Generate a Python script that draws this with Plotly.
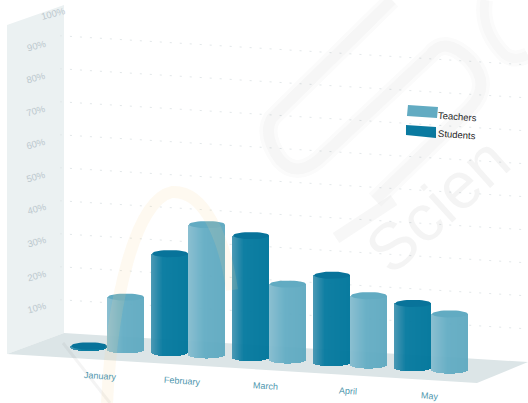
import math
import plotly.graph_objects as go

months = ["January", "February", "March", "April", "May"]
students = [0.5, 30, 37, 26.5, 19.5]
teachers = [16, 39.5, 23, 21, 17]
y_ticks = [10, 20, 30, 40, 50, 60, 70, 80, 90, 100]

W, H = 528, 403
PX_PER_PCT = 3.3
ZERO_Y = 333
WALL_X = 64
SLOPE = 0.0623
GROUP0 = 107.5
GROUP_STEP = 81.0
CYL_W = 36
BAR_OFF = 18.4
ELL = 3.6
BAR_FRONT = 13.0
FONT = "Liberation Sans"

def xd(px):
    return (px - GROUP0) / GROUP_STEP

def floor_pct(px):
    return -SLOPE * (px - WALL_X) / PX_PER_PCT

def P(x, y):
    return x / W, 1 - y / H

def mix(c1, c2, f):
    return "#%02x%02x%02x" % tuple(round(a + (b - a) * f) for a, b in zip(c1, c2))

def stud_col(t):
    if t < -0.35:
        return mix((70, 150, 178), (6, 122, 160), (t + 1) / 0.65)
    return mix((6, 122, 160), (0, 118, 156), (t + 0.35) / 1.35)

def teach_col(t):
    if t < -0.1:
        return mix((135, 190, 208), (100, 173, 196), (t + 1) / 0.9)
    return mix((100, 173, 196), (96, 170, 193), (t + 0.1) / 1.1)

fig = go.Figure()

shapes = []
def poly(pts, fill, layer="below"):
    d = "M" + " L".join("%.4f,%.4f" % P(*p) for p in pts) + " Z"
    shapes.append(dict(type="path", path=d, xref="paper", yref="paper", fillcolor=fill,
                       line=dict(width=0), layer=layer))

poly([(7, 25), (64, 5), (64, 333), (7, 354)], "#ebf1f2")
poly([(7, 354), (64, 333), (528, 362), (477, 383)], "#dce5e7")

# grid lines
for v in y_ticks[:-1]:
    shapes.append(dict(type="line", xref="x", yref="y", x0=xd(60), x1=xd(528),
                       y0=v + floor_pct(60), y1=v + floor_pct(528), layer="below",
                       line=dict(color="#e3e8ea", width=1, dash="2px,8px")))

def cylinders(values, side, colfn, name, top_col):
    sx, sy, sb, sc = [], [], [], []
    ex, ey = [], []
    for i, v in enumerate(values):
        cx = GROUP0 + GROUP_STEP * i + side * BAR_OFF
        base = floor_pct(cx) - BAR_FRONT / PX_PER_PCT
        e = ELL / PX_PER_PCT
        n = CYL_W
        for k in range(n):
            px = cx - CYL_W / 2 + k + 0.5
            t = (px - cx) / (CYL_W / 2)
            dip = e * math.sqrt(max(0, 1 - t * t))
            sx.append(xd(px))
            sb.append(base - dip)
            sy.append(v + dip)
            sc.append(colfn(t))
        for a in range(0, 361, 10):
            ex.append(xd(cx + CYL_W / 2 * math.cos(math.radians(a))))
            ey.append(base + v + e * math.sin(math.radians(a)))
        ex.append(None)
        ey.append(None)
    fig.add_trace(go.Bar(x=sx, y=sy, base=sb, width=1.25 / GROUP_STEP, name=name,
                         marker=dict(color=sc, line=dict(width=0)), opacity=0.96,
                         hoverinfo="skip", showlegend=False))
    fig.add_trace(go.Scatter(x=ex, y=ey, mode="lines", fill="toself", fillcolor=top_col,
                             line=dict(width=0, color=top_col), hoverinfo="skip", showlegend=False))

cylinders(students, -1, stud_col, "Students", "#08739a")
cylinders(teachers, 1, teach_col, "Teachers", "#62abc2")

ann = []
def label(px, py, text, angle, size, color):
    ann.append(dict(x=px / W, y=1 - py / H, xref="paper", yref="paper", text=text, showarrow=False,
                    xanchor="center", yanchor="middle", textangle=angle,
                    font=dict(family=FONT, size=size, color=color)))

# y tick labels
label_pos = [(37, 307), (37, 275), (37, 241), (37, 208), (36, 176), (36, 143), (36, 110), (36, 77), (37, 46), (53, 14)]
for v, (lx, ly) in zip(y_ticks, label_pos):
    label(lx, ly, f"{v}%", -15, 9.5, "#bcc8ce")
# month labels
for i, m in enumerate(months):
    label(100 + 82.5 * i, 376 + 5 * i, m, 4, 9, "#4f97ae")
# legend
poly([(408, 105), (438, 107), (437, 118), (407, 116)], "#62abc2")
poly([(406, 125), (436, 127), (436, 138), (406, 135)], "#0a7aa0")
label(457, 116, "Teachers", 4, 9.5, "#262626")
label(457, 135, "Students", 4, 9.5, "#262626")

# faint watermark
def stroke(d_pts, color, width):
    parts = []
    for cmd, pts in d_pts:
        parts.append(cmd + " ".join("%.4f,%.4f" % P(*p) for p in pts))
    shapes.append(dict(type="path", path=" ".join(parts), xref="paper", yref="paper",
                       line=dict(color=color, width=width), layer="above"))

stroke([("M", [(107, 403)]), ("C", [(112, 300), (135, 200), (172, 192)]), ("C", [(205, 190), (225, 240), (232, 290)])],
       "rgba(250,215,150,0.14)", 12)
stroke([("M", [(110, 403)]), ("L", [(63, 343), (180, 225), (322, 316), (230, 403)])], "rgba(60,60,60,0.06)", 3)
ring = [("M", [(392, 0)]), ("L", [(272, 118)]), ("Q", [(262, 135), (280, 160)]), ("Q", [(296, 178), (318, 160)]),
        ("L", [(430, 55)]), ("Q", [(445, 35), (470, 60)]), ("Q", [(492, 85), (470, 108)]), ("L", [(375, 200)])]
stroke(ring, "rgba(60,60,60,0.02)", 18)
stroke(ring, "rgba(60,60,60,0.025)", 11)
ring2 = [("M", [(485, 0)]), ("Q", [(480, 30), (505, 55)]), ("Q", [(515, 62), (528, 55)])]
stroke(ring2, "rgba(60,60,60,0.02)", 16)
stroke(ring2, "rgba(60,60,60,0.02)", 9)
stroke([("M", [(394, 200)]), ("L", [(336, 238)])], "rgba(60,60,60,0.045)", 12)
label(437, 205, "Scien", -42, 66, "rgba(60,60,60,0.055)")

fig.update_layout(
    width=W, height=H, margin=dict(l=0, r=0, t=0, b=0), autosize=False,
    paper_bgcolor="white", plot_bgcolor="rgba(0,0,0,0)", barmode="overlay", bargap=0,
    showlegend=False, shapes=shapes, annotations=ann,
    xaxis=dict(range=[xd(0), xd(W)], visible=False, fixedrange=True),
    yaxis=dict(range=[(ZERO_Y - H) / PX_PER_PCT, ZERO_Y / PX_PER_PCT], visible=False, fixedrange=True),
)
fig.write_html("out.html", config={"displayModeBar": False},
               post_script="document.body.style.margin='0';document.body.style.overflow='hidden';")
